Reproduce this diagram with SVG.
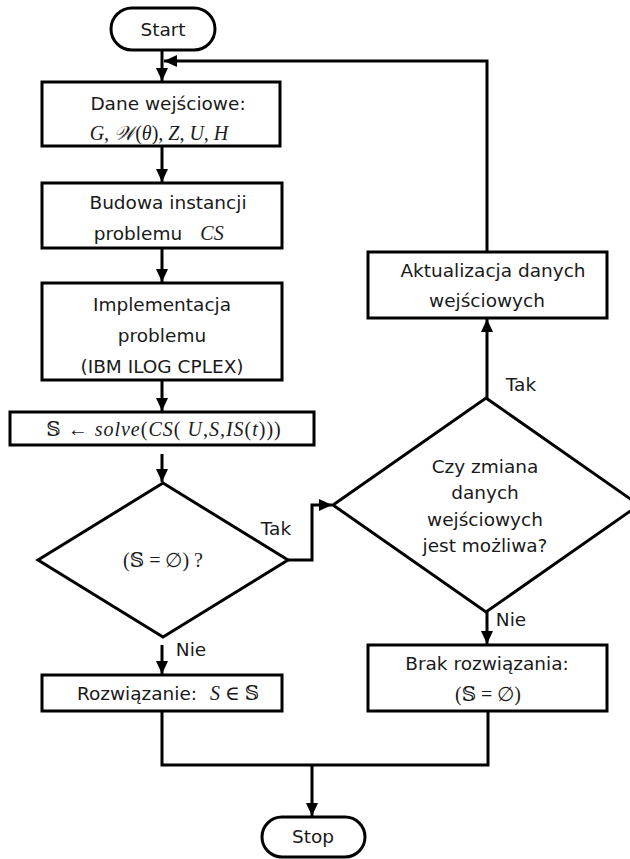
<svg xmlns="http://www.w3.org/2000/svg" width="630" height="859" viewBox="0 0 630 859">
  <style>
    .shape { fill: #ffffff; stroke: #000000; stroke-width: 3; }
    .wire { fill: none; stroke: #000000; stroke-width: 3; }
    .lbl { font-family: "DejaVu Sans", Verdana, sans-serif; font-size: 18.5px; fill: #1a1a1a; text-anchor: middle; }
    .math { font-family: "Liberation Serif", "DejaVu Serif", serif; font-size: 20px; font-style: italic; fill: #1a1a1a; text-anchor: middle; }
    .math.left { text-anchor: start; }
    .up { font-style: normal; }
  </style>
  <defs>
    <marker id="arrow" markerUnits="userSpaceOnUse" markerWidth="14" markerHeight="14" viewBox="0 0 14 14" refX="13" refY="7" orient="auto">
      <path d="M0,1 L13,7 L0,13 Z" fill="#000000"/>
    </marker>
  </defs>
  <rect width="630" height="859" fill="#ffffff"/>

  <!-- connectors -->
  <g id="connectors">
    <line class="wire" x1="162" y1="50" x2="162" y2="81" marker-end="url(#arrow)"/>
    <polyline class="wire" points="487,252 487,61 164,61" marker-end="url(#arrow)"/>
    <line class="wire" x1="162" y1="146" x2="162" y2="182" marker-end="url(#arrow)"/>
    <line class="wire" x1="162" y1="248" x2="162" y2="282" marker-end="url(#arrow)"/>
    <line class="wire" x1="162" y1="380" x2="162" y2="411" marker-end="url(#arrow)"/>
    <line class="wire" x1="162" y1="454" x2="162" y2="482" marker-end="url(#arrow)"/>
    <line class="wire" x1="162" y1="645" x2="162" y2="674" marker-end="url(#arrow)"/>
    <polyline class="wire" points="288,560 312,560 312,505 332,505" marker-end="url(#arrow)"/>
    <line class="wire" x1="487" y1="398" x2="487" y2="319" marker-end="url(#arrow)"/>
    <line class="wire" x1="487" y1="610" x2="487" y2="644" marker-end="url(#arrow)"/>
    <polyline class="wire" points="162,711 162,765 488,765 488,711"/>
    <line class="wire" x1="312" y1="765" x2="312" y2="816" marker-end="url(#arrow)"/>
    <text class="lbl" x="276" y="535" font-size="17">Tak</text>
    <text class="lbl" x="191" y="656" font-size="17">Nie</text>
    <text class="lbl" x="521" y="391" font-size="17">Tak</text>
    <text class="lbl" x="511" y="626" font-size="17">Nie</text>
  </g>

  <g id="start">
    <rect class="shape" x="111" y="8" width="104" height="42" rx="21"/>
    <text class="lbl" x="163" y="36">Start</text>
  </g>

  <g id="input-data">
    <rect class="shape" x="42" y="82" width="238" height="64"/>
    <text class="lbl" x="168" y="110">Dane wejściowe:</text>
    <text class="math" x="159" y="140">G, 𝒲<tspan class="up">(</tspan>θ<tspan class="up">)</tspan>, Z, U, H</text>
  </g>

  <g id="build-instance">
    <rect class="shape" x="42" y="183" width="240" height="65"/>
    <text class="lbl" x="168" y="209">Budowa instancji</text>
    <text class="lbl" x="138" y="240">problemu</text>
    <text class="math" x="212" y="240">CS</text>
  </g>

  <g id="implementation">
    <rect class="shape" x="42" y="283" width="240" height="97"/>
    <text class="lbl" x="162" y="311">Implementacja</text>
    <text class="lbl" x="162" y="342">problemu</text>
    <text class="lbl" x="162" y="373">(IBM ILOG CPLEX)</text>
  </g>

  <g id="solve">
    <rect class="shape" x="10" y="412" width="304" height="33"/>
    <text class="math" x="164" y="436" letter-spacing="1"><tspan class="up">𝕊 ← </tspan>solve<tspan class="up">(</tspan>CS<tspan class="up">( </tspan>U<tspan class="up">,</tspan>S<tspan class="up">,</tspan>IS<tspan class="up">(</tspan>t<tspan class="up">)))</tspan></text>
  </g>

  <g id="empty-check">
    <polygon class="shape" points="163,483 288,560 163,637 38,560"/>
    <text class="math" x="163" y="567"><tspan class="up">(𝕊 = ∅) ?</tspan></text>
  </g>

  <g id="solution">
    <rect class="shape" x="42" y="675" width="240" height="36"/>
    <text class="lbl" x="137" y="700">Rozwiązanie:</text>
    <text class="math left" x="210" y="700">S <tspan class="up">∈ 𝕊</tspan></text>
  </g>

  <g id="change-possible">
    <polygon class="shape" points="486,398 639,505 486,612 333,505"/>
    <text class="lbl" x="485" y="473">Czy zmiana</text>
    <text class="lbl" x="485" y="499">danych</text>
    <text class="lbl" x="485" y="526">wejściowych</text>
    <text class="lbl" x="485" y="552">jest możliwa?</text>
  </g>

  <g id="update-data">
    <rect class="shape" x="368" y="252" width="239" height="66"/>
    <text class="lbl" x="493" y="277">Aktualizacja danych</text>
    <text class="lbl" x="487" y="307">wejściowych</text>
  </g>

  <g id="no-solution">
    <rect class="shape" x="368" y="645" width="239" height="66"/>
    <text class="lbl" x="487" y="670">Brak rozwiązania:</text>
    <text class="math" x="488" y="701"><tspan class="up">(𝕊 =  ∅)</tspan></text>
  </g>

  <g id="stop">
    <rect class="shape" x="262" y="817" width="103" height="40" rx="20"/>
    <text class="lbl" x="313" y="843">Stop</text>
  </g>
</svg>
